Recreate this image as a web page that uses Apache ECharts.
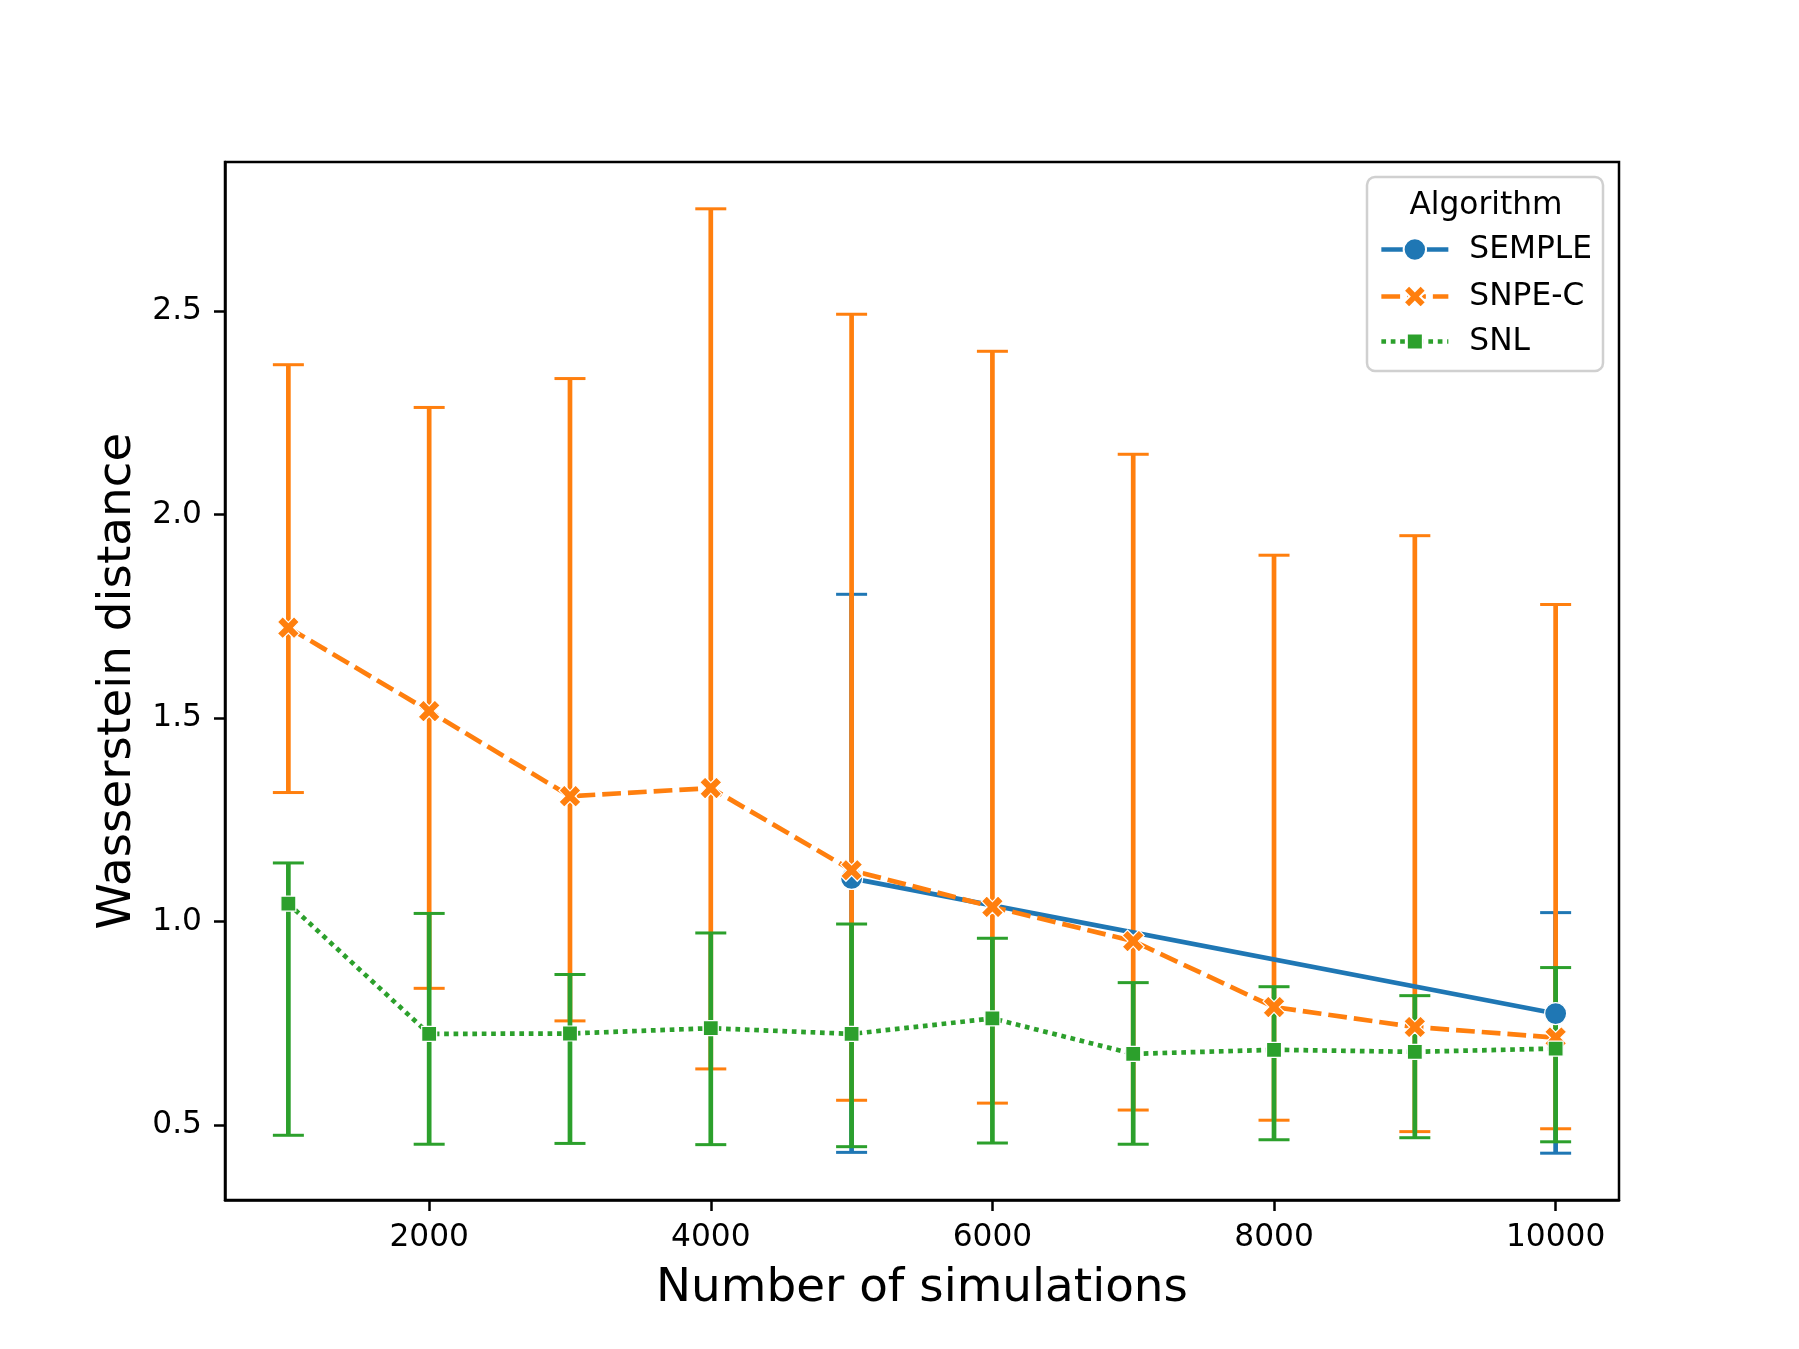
<!DOCTYPE html>
<html>
<head>
<meta charset="utf-8">
<script src="https://cdn.jsdelivr.net/npm/echarts@6/dist/echarts.min.js"></script>
<style>
html,body{margin:0;padding:0;background:#fff;}
#chart{width:1799px;height:1349px;}
</style>
</head>
<body>
<div id="chart"></div>
<script>
// ---- data ----
const simulations = [1000, 2000, 3000, 4000, 5000, 6000, 7000, 8000, 9000, 10000];
const xTicks = [2000, 4000, 6000, 8000, 10000];
const yTicks = [0.5, 1.0, 1.5, 2.0, 2.5];

const sempleX    = [5000, 10000];
const sempleMean = [1.106, 0.774];
const sempleLo   = [0.433, 0.431];
const sempleHi   = [1.804, 1.022];

const snpeMean = [1.722, 1.517, 1.308, 1.328, 1.126, 1.036, 0.952, 0.790, 0.741, 0.715];
const snpeLo   = [1.317, 0.836, 0.756, 0.638, 0.561, 0.554, 0.537, 0.512, 0.484, 0.491];
const snpeHi   = [2.368, 2.263, 2.334, 2.751, 2.492, 2.401, 2.148, 1.900, 1.948, 1.779];

const snlMean = [1.044, 0.724, 0.725, 0.738, 0.724, 0.762, 0.675, 0.685, 0.680, 0.688];
const snlLo   = [0.475, 0.453, 0.455, 0.452, 0.447, 0.456, 0.453, 0.464, 0.469, 0.459];
const snlHi   = [1.144, 1.020, 0.870, 0.972, 0.994, 0.959, 0.850, 0.840, 0.818, 0.887];

const seriesNames = ['SEMPLE', 'SNPE-C', 'SNL'];
const legendTitle = 'Algorithm';
const xName = 'Number of simulations';
const yName = 'Wasserstein distance';

// ---- style ----
const BLUE = '#1f77b4', ORANGE = '#ff7f0e', GREEN = '#2ca02c';
const FONT = 'DejaVu Sans';
const LW = 4.7;
const X_PATH = 'path://M-3 -1.55 L-1.55 -3 L0 -1.45 L1.55 -3 L3 -1.55 L1.45 0 L3 1.55 L1.55 3 L0 1.45 L-1.55 3 L-3 1.55 L-1.45 0 Z';

function zip2(a, b) { return a.map((v, i) => [v, b[i]]); }
function zip3(a, b, c) { return a.map((v, i) => [v, b[i], c[i]]); }

function errRender(color) {
  return function (params, api) {
    const x = api.value(0);
    const pLo = api.coord([x, api.value(1)]);
    const pHi = api.coord([x, api.value(2)]);
    const cap = 15.5;
    return {
      type: 'group',
      children: [
        { type: 'line', shape: { x1: pLo[0], y1: pLo[1], x2: pHi[0], y2: pHi[1] }, style: { stroke: color, lineWidth: LW } },
        { type: 'line', shape: { x1: pLo[0] - cap, y1: pLo[1], x2: pLo[0] + cap, y2: pLo[1] }, style: { stroke: color, lineWidth: 3 } },
        { type: 'line', shape: { x1: pHi[0] - cap, y1: pHi[1], x2: pHi[0] + cap, y2: pHi[1] }, style: { stroke: color, lineWidth: 3 } }
      ]
    };
  };
}

const chart = echarts.init(document.getElementById('chart'), null, { renderer: 'canvas' });

const legendCommon = {
  orient: 'vertical',
  left: 1374,
  itemWidth: 67,
  selectedMode: false,
  itemGap: 0,
  lineStyle: { width: LW },
  textStyle: { fontSize: 31.25, color: '#000', fontFamily: FONT, padding: [0, 0, 0, 16] }
};

const option = {
  animation: false,
  backgroundColor: '#fff',
  grid: { left: 225, right: 180, top: 162, bottom: 149, show: true, borderColor: '#000', borderWidth: 2.5, backgroundColor: 'transparent' },
  xAxis: {
    type: 'value', min: 550, max: 10450,
    name: xName, nameLocation: 'middle', nameGap: 65,
    nameTextStyle: { fontSize: 46.875, color: '#000', fontFamily: FONT },
    axisLine: { show: true, lineStyle: { color: '#000', width: 2.5 } },
    axisTick: { show: true, inside: false, length: 11, lineStyle: { color: '#000', width: 2.5 }, customValues: xTicks },
    axisLabel: { show: true, margin: 22, fontSize: 31.25, color: '#000', fontFamily: FONT, customValues: xTicks, formatter: v => String(v) },
    splitLine: { show: false }
  },
  yAxis: {
    type: 'value', min: 0.316, max: 2.866,
    name: yName, nameLocation: 'middle', nameGap: 84,
    nameTextStyle: { fontSize: 46.875, color: '#000', fontFamily: FONT },
    axisLine: { show: true, lineStyle: { color: '#000', width: 2.5 } },
    axisTick: { show: true, inside: false, length: 11, lineStyle: { color: '#000', width: 2.5 }, customValues: yTicks },
    axisLabel: { show: true, margin: 23, fontSize: 31.25, color: '#000', fontFamily: FONT, customValues: yTicks, formatter: v => v.toFixed(1) },
    splitLine: { show: false }
  },
  legend: [
    Object.assign({}, legendCommon, { data: [seriesNames[0]], top: 248 - 19, itemHeight: 28 }),
    Object.assign({}, legendCommon, { data: [seriesNames[1]], top: 295 - 19, itemHeight: 28 }),
    Object.assign({}, legendCommon, { data: [seriesNames[2]], top: 340 - 19, itemHeight: 20 })
  ],
  graphic: [
    { type: 'rect', z: 3, shape: { x: 1367, y: 177, width: 236, height: 194, r: 8 },
      style: { fill: 'rgba(255,255,255,0.8)', stroke: '#d0d0d0', lineWidth: 2.5 } },
    { type: 'text', z: 5, x: 1486, y: 206,
      style: { text: legendTitle, fontSize: 31.25, fontFamily: FONT, fill: '#000', align: 'center', verticalAlign: 'middle' } }
  ],
  series: [
    { type: 'custom', name: seriesNames[0] + ' err', z: 1, renderItem: errRender(BLUE), data: zip3(sempleX, sempleLo, sempleHi), encode: { x: 0, y: [1, 2] }, silent: true },
    { type: 'custom', name: seriesNames[1] + ' err', z: 1, renderItem: errRender(ORANGE), data: zip3(simulations, snpeLo, snpeHi), encode: { x: 0, y: [1, 2] }, silent: true },
    { type: 'custom', name: seriesNames[2] + ' err', z: 1, renderItem: errRender(GREEN), data: zip3(simulations, snlLo, snlHi), encode: { x: 0, y: [1, 2] }, silent: true },
    { type: 'line', name: seriesNames[0], z: 2, data: zip2(sempleX, sempleMean), color: BLUE,
      symbol: 'circle', symbolSize: 22, showAllSymbol: true,
      lineStyle: { color: BLUE, width: LW, type: 'solid' },
      itemStyle: { color: BLUE, borderColor: '#fff', borderWidth: 1.2 } },
    { type: 'line', name: seriesNames[1], z: 2, data: zip2(simulations, snpeMean), color: ORANGE,
      symbol: X_PATH, symbolSize: 22, showAllSymbol: true,
      lineStyle: { color: ORANGE, width: LW, type: [18.75, 7] },
      itemStyle: { color: ORANGE, borderColor: '#fff', borderWidth: 1.2 } },
    { type: 'line', name: seriesNames[2], z: 2, data: zip2(simulations, snlMean), color: GREEN,
      symbol: 'rect', symbolSize: 15, showAllSymbol: true,
      lineStyle: { color: GREEN, width: LW, type: [4.7, 4.7] },
      itemStyle: { color: GREEN, borderColor: '#fff', borderWidth: 1.2 } }
  ]
};
chart.setOption(option);
</script>
</body>
</html>
